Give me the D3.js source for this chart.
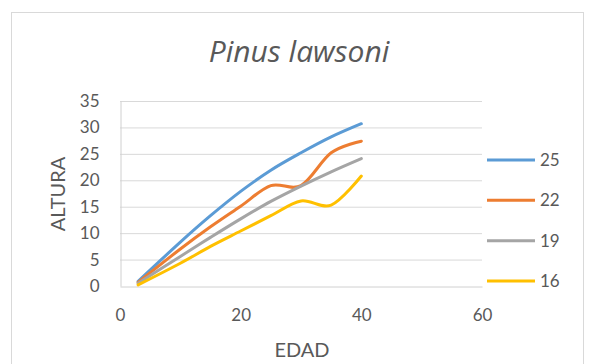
<!DOCTYPE html>
<html>
<head>
<meta charset="utf-8">
<script src="https://cdn.jsdelivr.net/npm/d3@7"></script>
<style>
  html, body { margin: 0; padding: 0; background: #fff; }
  svg { display: block; }
  text { font-family: Lato, "Open Sans", sans-serif; fill: #595959; }
</style>
</head>
<body>
<svg id="chart" width="591" height="364"></svg>
<script>
// Height growth by age for each site index
const edad = [3, 10, 15, 20, 25, 30, 35, 40];
const si25 = [0.9, 8.3, 13.3, 17.9, 21.9, 25.2, 28.2, 30.7];
const si22 = [0.7, 7.0, 11.2, 15.1, 19.0, 19.0, 25.2, 27.4];
const si19 = [0.5, 5.6, 9.2, 12.7, 16.0, 18.9, 21.6, 24.1];
const si16 = [0.2, 4.3, 7.5, 10.4, 13.3, 16.1, 15.3, 20.8];
const seriesNames = ["25", "22", "19", "16"];
const seriesColors = ["#5B9BD5", "#ED7D31", "#A5A5A5", "#FFC000"];
const xTicks = [0, 20, 40, 60];
const yTicks = [0, 5, 10, 15, 20, 25, 30, 35];

const svg = d3.select("#chart");

// chart frame
svg.append("rect")
  .attr("x", 11.5).attr("y", 12.5)
  .attr("width", 572).attr("height", 360)
  .attr("fill", "#fff").attr("stroke", "#d9d9d9").attr("stroke-width", 1);

const x = d3.scaleLinear().domain([0, 60]).range([120, 482]);
const y = d3.scaleLinear().domain([0, 35]).range([286, 101]);

// horizontal gridlines
svg.append("g")
  .selectAll("line")
  .data(yTicks.filter(d => d > 0))
  .join("line")
  .attr("x1", x(0)).attr("x2", x(60))
  .attr("y1", d => y(d) + 0.5).attr("y2", d => y(d) + 0.5)
  .attr("stroke", "#d9d9d9").attr("stroke-width", 1);

// axes
const yAxis = svg.append("g")
  .attr("transform", `translate(${x(0) + 0.5},0)`)
  .call(d3.axisLeft(y).tickValues(yTicks).tickSize(0).tickPadding(21));
const xAxis = svg.append("g")
  .attr("transform", `translate(0,${y(0) + 0.5})`)
  .call(d3.axisBottom(x).tickValues(xTicks).tickSize(0).tickPadding(22));
[yAxis, xAxis].forEach(g => {
  g.select(".domain").attr("stroke", "#d0d0d0").attr("stroke-width", 1);
  g.selectAll("text")
    .style("font-family", "Lato, 'Open Sans', sans-serif")
    .style("font-size", "17px")
    .attr("fill", "#595959");
});

// smoothed series lines
const allSeries = [si25, si22, si19, si16];
const line = d3.line()
  .x((d, i) => x(edad[i]))
  .y(d => y(d))
  .curve(d3.curveCatmullRom.alpha(0));

svg.append("g")
  .selectAll("path")
  .data(allSeries)
  .join("path")
  .attr("d", d => line(d))
  .attr("fill", "none")
  .attr("stroke", (d, i) => seriesColors[i])
  .attr("stroke-width", 3)
  .attr("stroke-linecap", "round")
  .attr("stroke-linejoin", "round");

// legend
const legendY = d3.scalePoint().domain(seriesNames).range([160, 281]);
const legend = svg.append("g");
seriesNames.forEach((name, i) => {
  legend.append("line")
    .attr("x1", 487).attr("x2", 535)
    .attr("y1", legendY(name)).attr("y2", legendY(name))
    .attr("stroke", seriesColors[i]).attr("stroke-width", 3);
  legend.append("text")
    .attr("x", 540).attr("y", legendY(name))
    .attr("dy", "0.36em")
    .style("font-size", "17px")
    .text(name);
});

// title
svg.append("text")
  .attr("x", 299).attr("y", 62)
  .attr("text-anchor", "middle")
  .style("font-family", "'Open Sans', Lato, sans-serif")
  .style("font-size", "30px")
  .style("font-style", "italic")
  .text("Pinus lawsoni");

// axis titles
svg.append("text")
  .attr("x", 302).attr("y", 357)
  .attr("text-anchor", "middle")
  .style("font-size", "20px")
  .text("EDAD");
svg.append("text")
  .attr("transform", `translate(65,194) rotate(-90)`)
  .attr("text-anchor", "middle")
  .style("font-size", "20px")
  .text("ALTURA");
</script>
</body>
</html>
